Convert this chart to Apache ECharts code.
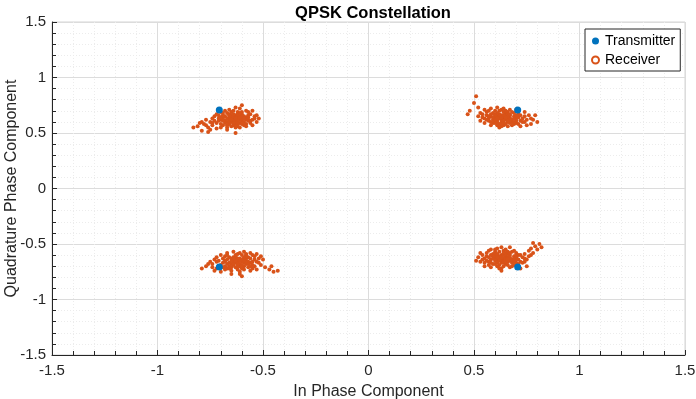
<!DOCTYPE html>
<html>
<head>
<meta charset="utf-8">
<title>QPSK Constellation</title>
<script src="https://cdn.jsdelivr.net/npm/echarts@6/dist/echarts.min.js"></script>
<style>
  html, body { margin: 0; padding: 0; background: #ffffff; }
  #chart { width: 696px; height: 399px; }
</style>
</head>
<body>
<div id="chart"></div>
<script>
// Ideal QPSK symbol positions
const transmitted = [
  [-0.7071, 0.7071], [0.7071, 0.7071], [-0.7071, -0.7071], [0.7071, -0.7071]
];

// Received symbols, one list per quadrant
const receivedTopLeft = [
  [-0.64,0.63],[-0.61,0.65],[-0.67,0.60],[-0.70,0.62],[-0.58,0.64],[-0.63,0.58],[-0.66,0.67],[-0.60,0.61],[-0.72,0.59],[-0.55,0.62],
  [-0.65,0.64],[-0.62,0.69],[-0.68,0.65],[-0.59,0.57],[-0.74,0.63],[-0.63,0.61],[-0.57,0.66],[-0.69,0.57],[-0.61,0.59],[-0.66,0.62],
  [-0.78,0.58],[-0.64,0.70],[-0.60,0.67],[-0.71,0.66],[-0.56,0.59],[-0.67,0.55],[-0.62,0.64],[-0.65,0.60],[-0.58,0.70],[-0.73,0.61],
  [-0.63,0.66],[-0.69,0.63],[-0.61,0.62],[-0.54,0.65],[-0.76,0.55],[-0.66,0.58],[-0.60,0.63],[-0.64,0.57],[-0.70,0.69],[-0.57,0.61],
  [-0.81,0.56],[-0.62,0.60],[-0.67,0.68],[-0.59,0.65],[-0.72,0.54],[-0.65,0.66],[-0.53,0.60],[-0.68,0.61],[-0.61,0.72],[-0.63,0.55],
  [-0.75,0.60],[-0.58,0.62],[-0.66,0.64],[-0.60,0.58],[-0.70,0.58],[-0.64,0.61],[-0.56,0.67],[-0.69,0.66],[-0.62,0.67],[-0.77,0.62],
  [-0.65,0.56],[-0.59,0.60],[-0.71,0.63],[-0.63,0.73],[-0.55,0.57],[-0.67,0.63],[-0.61,0.55],[-0.74,0.57],[-0.60,0.69],[-0.66,0.60],
  [-0.79,0.52],[-0.64,0.65],[-0.57,0.64],[-0.68,0.59],[-0.62,0.62],[-0.73,0.65],[-0.58,0.58],[-0.65,0.69],[-0.70,0.55],[-0.60,0.65],
  [-0.79,0.60],[-0.63,0.63],[-0.66,0.71],[-0.54,0.63],[-0.69,0.61],[-0.61,0.68],[-0.75,0.53],[-0.64,0.59],[-0.57,0.69],[-0.67,0.57],
  [-0.62,0.58],[-0.72,0.67],[-0.59,0.63],[-0.83,0.55],[-0.65,0.62],[-0.56,0.61],[-0.70,0.64],[-0.63,0.50],[-0.60,0.75],[-0.68,0.70],
  [-0.53,0.66],[-0.77,0.57],[-0.66,0.66],[-0.61,0.64],[-0.74,0.59],[-0.58,0.56],[-0.64,0.67],[-0.71,0.61],[-0.55,0.70],[-0.67,0.53],
  [-0.76,0.51],[-0.52,0.63],[-0.69,0.68],[-0.62,0.56],[-0.80,0.59]
];

const receivedTopRight = [
  [0.64,0.64],[0.61,0.62],[0.67,0.66],[0.70,0.63],[0.58,0.65],[0.63,0.60],[0.66,0.69],[0.60,0.67],[0.72,0.61],[0.55,0.63],
  [0.65,0.62],[0.62,0.70],[0.68,0.60],[0.59,0.59],[0.74,0.65],[0.63,0.66],[0.57,0.61],[0.69,0.58],[0.61,0.65],[0.66,0.63],
  [0.78,0.62],[0.64,0.57],[0.60,0.70],[0.71,0.67],[0.56,0.66],[0.67,0.59],[0.62,0.64],[0.65,0.68],[0.58,0.72],[0.73,0.60],
  [0.63,0.62],[0.69,0.65],[0.61,0.60],[0.54,0.67],[0.76,0.66],[0.66,0.60],[0.60,0.64],[0.64,0.69],[0.70,0.71],[0.57,0.63],
  [0.51,0.83],[0.62,0.58],[0.67,0.64],[0.59,0.68],[0.72,0.56],[0.65,0.66],[0.53,0.61],[0.68,0.62],[0.61,0.73],[0.63,0.56],
  [0.75,0.62],[0.58,0.60],[0.66,0.65],[0.60,0.61],[0.70,0.59],[0.64,0.61],[0.56,0.69],[0.69,0.68],[0.62,0.67],[0.77,0.58],
  [0.65,0.58],[0.59,0.62],[0.71,0.64],[0.63,0.71],[0.55,0.59],[0.67,0.62],[0.61,0.57],[0.74,0.69],[0.60,0.66],[0.66,0.67],
  [0.47,0.67],[0.64,0.66],[0.57,0.65],[0.68,0.57],[0.62,0.63],[0.73,0.63],[0.58,0.57],[0.65,0.70],[0.70,0.61],[0.60,0.59],
  [0.79,0.66],[0.63,0.64],[0.66,0.61],[0.54,0.64],[0.69,0.63],[0.61,0.68],[0.75,0.57],[0.64,0.59],[0.57,0.70],[0.67,0.67],
  [0.50,0.77],[0.72,0.66],[0.59,0.64],[0.52,0.73],[0.65,0.64],[0.56,0.62],[0.70,0.66],[0.63,0.58],[0.60,0.62],[0.68,0.69],
  [0.53,0.68],[0.77,0.63],[0.66,0.56],[0.61,0.63],[0.74,0.60],[0.58,0.67],[0.64,0.72],[0.71,0.58],[0.55,0.71],[0.67,0.71],
  [0.80,0.60],[0.52,0.65],[0.69,0.60],[0.62,0.55],[0.48,0.70]
];

const receivedBottomLeft = [
  [-0.62,-0.66],[-0.59,-0.64],[-0.65,-0.68],[-0.68,-0.65],[-0.56,-0.67],[-0.61,-0.70],[-0.64,-0.62],[-0.58,-0.63],[-0.70,-0.69],[-0.53,-0.66],
  [-0.63,-0.64],[-0.60,-0.60],[-0.66,-0.70],[-0.57,-0.71],[-0.72,-0.66],[-0.61,-0.63],[-0.55,-0.69],[-0.67,-0.72],[-0.59,-0.67],[-0.64,-0.65],
  [-0.76,-0.68],[-0.62,-0.73],[-0.58,-0.60],[-0.69,-0.63],[-0.54,-0.64],[-0.65,-0.74],[-0.60,-0.66],[-0.63,-0.61],[-0.56,-0.58],[-0.71,-0.70],
  [-0.61,-0.68],[-0.67,-0.64],[-0.59,-0.70],[-0.52,-0.63],[-0.74,-0.71],[-0.64,-0.69],[-0.58,-0.65],[-0.62,-0.59],[-0.68,-0.61],[-0.55,-0.72],
  [-0.45,-0.75],[-0.60,-0.72],[-0.65,-0.63],[-0.57,-0.62],[-0.70,-0.75],[-0.63,-0.67],[-0.51,-0.69],[-0.66,-0.67],[-0.59,-0.57],[-0.61,-0.75],
  [-0.73,-0.64],[-0.56,-0.70],[-0.64,-0.66],[-0.58,-0.68],[-0.68,-0.70],[-0.62,-0.63],[-0.54,-0.61],[-0.67,-0.60],[-0.60,-0.64],[-0.75,-0.66],
  [-0.63,-0.71],[-0.57,-0.66],[-0.69,-0.67],[-0.61,-0.58],[-0.53,-0.73],[-0.65,-0.65],[-0.59,-0.73],[-0.72,-0.62],[-0.58,-0.61],[-0.64,-0.68],
  [-0.47,-0.73],[-0.62,-0.64],[-0.55,-0.66],[-0.66,-0.72],[-0.60,-0.69],[-0.71,-0.65],[-0.56,-0.74],[-0.63,-0.60],[-0.68,-0.73],[-0.58,-0.67],
  [-0.77,-0.70],[-0.61,-0.65],[-0.64,-0.57],[-0.52,-0.67],[-0.67,-0.68],[-0.59,-0.62],[-0.73,-0.74],[-0.62,-0.70],[-0.55,-0.60],[-0.65,-0.71],
  [-0.49,-0.71],[-0.70,-0.60],[-0.57,-0.68],[-0.79,-0.72],[-0.63,-0.65],[-0.54,-0.70],[-0.68,-0.66],[-0.61,-0.77],[-0.58,-0.59],[-0.66,-0.62],
  [-0.50,-0.64],[-0.74,-0.68],[-0.64,-0.63],[-0.59,-0.65],[-0.72,-0.72],[-0.56,-0.63],[-0.62,-0.68],[-0.69,-0.71],[-0.53,-0.59],[-0.65,-0.77],
  [-0.43,-0.74],[-0.51,-0.61],[-0.67,-0.58],[-0.60,-0.79],[-0.46,-0.70]
];

const receivedBottomRight = [
  [0.64,-0.63],[0.61,-0.61],[0.67,-0.65],[0.70,-0.62],[0.58,-0.64],[0.63,-0.67],[0.66,-0.59],[0.60,-0.60],[0.72,-0.66],[0.55,-0.63],
  [0.65,-0.61],[0.62,-0.57],[0.68,-0.67],[0.59,-0.68],[0.74,-0.63],[0.63,-0.60],[0.57,-0.66],[0.69,-0.69],[0.61,-0.64],[0.66,-0.62],
  [0.78,-0.58],[0.64,-0.70],[0.60,-0.57],[0.71,-0.60],[0.56,-0.61],[0.67,-0.71],[0.62,-0.63],[0.65,-0.58],[0.58,-0.55],[0.73,-0.67],
  [0.63,-0.65],[0.69,-0.61],[0.61,-0.67],[0.54,-0.60],[0.76,-0.61],[0.66,-0.66],[0.60,-0.62],[0.64,-0.56],[0.70,-0.58],[0.57,-0.69],
  [0.81,-0.50],[0.62,-0.69],[0.67,-0.60],[0.59,-0.59],[0.72,-0.72],[0.65,-0.64],[0.53,-0.66],[0.68,-0.64],[0.61,-0.54],[0.63,-0.72],
  [0.75,-0.64],[0.58,-0.67],[0.66,-0.63],[0.60,-0.65],[0.70,-0.67],[0.64,-0.60],[0.56,-0.58],[0.69,-0.56],[0.62,-0.61],[0.77,-0.54],
  [0.65,-0.68],[0.59,-0.63],[0.71,-0.64],[0.63,-0.53],[0.55,-0.70],[0.67,-0.62],[0.61,-0.70],[0.74,-0.59],[0.60,-0.59],[0.66,-0.57],
  [0.79,-0.52],[0.64,-0.66],[0.57,-0.62],[0.68,-0.70],[0.62,-0.65],[0.73,-0.62],[0.58,-0.71],[0.65,-0.55],[0.70,-0.64],[0.60,-0.68],
  [0.76,-0.56],[0.63,-0.62],[0.66,-0.69],[0.54,-0.64],[0.69,-0.63],[0.61,-0.59],[0.75,-0.70],[0.64,-0.67],[0.57,-0.56],[0.67,-0.58],
  [0.52,-0.62],[0.72,-0.60],[0.59,-0.61],[0.80,-0.55],[0.65,-0.66],[0.56,-0.65],[0.70,-0.60],[0.63,-0.74],[0.60,-0.55],[0.68,-0.57],
  [0.53,-0.58],[0.77,-0.60],[0.66,-0.64],[0.61,-0.62],[0.74,-0.66],[0.58,-0.60],[0.64,-0.58],[0.71,-0.68],[0.55,-0.67],[0.67,-0.53],
  [0.78,-0.49],[0.51,-0.65],[0.69,-0.66],[0.62,-0.72],[0.82,-0.53]
];

// Axis range and tick spacing (same for both axes)
const axisTicks = [-1.5, -1, -0.5, 0, 0.5, 1, 1.5];
const seriesNames = ['Transmitter', 'Receiver'];

const received = receivedTopLeft.concat(receivedTopRight, receivedBottomLeft, receivedBottomRight);

const txColor = '#0072BD';
const rxColor = '#D95319';
const axisColor = '#262626';
const font = '"Liberation Sans", Arial, Helvetica, sans-serif';

function makeAxis(isX) {
  return {
    type: 'value',
    min: axisTicks[0],
    max: axisTicks[axisTicks.length - 1],
    interval: axisTicks[1] - axisTicks[0],
    name: isX ? 'In Phase Component' : 'Quadrature Phase Component',
    nameLocation: 'middle',
    nameGap: isX ? 29 : 32,
    nameMoveOverlap: false,
    nameTextStyle: { fontFamily: font, fontSize: 16, color: axisColor },
    axisLine: { show: true, onZero: false, lineStyle: { color: axisColor, width: 1 } },
    axisTick: { show: true, inside: true, length: 5, lineStyle: { color: axisColor } },
    minorTick: { show: true, splitNumber: 5, length: 4, lineStyle: { color: axisColor } },
    axisLabel: {
      fontFamily: font, fontSize: 15, color: axisColor, margin: isX ? 8 : 6,
      formatter: v => String(v)
    },
    splitLine: { show: true, lineStyle: { color: '#dcdcdc', width: 1 } },
    minorSplitLine: { show: true, lineStyle: { color: '#ececec', width: 1, type: [1, 2] } }
  };
}

const chart = echarts.init(document.getElementById('chart'), null, { renderer: 'canvas' });
chart.setOption({
  animation: false,
  backgroundColor: '#ffffff',
  title: {
    text: 'QPSK Constellation',
    left: 368, top: 0, textAlign: 'center',
    textStyle: { fontFamily: font, fontSize: 16.5, fontWeight: 'bold', color: '#000000' }
  },
  grid: {
    left: 52, right: 11, top: 22, bottom: 44,
    outerBoundsMode: 'none',
    containLabel: false,
    show: true, borderColor: '#d4d4d4', borderWidth: 1, backgroundColor: 'transparent'
  },
  xAxis: makeAxis(true),
  yAxis: makeAxis(false),
  legend: {
    left: 585, top: 29,
    orient: 'vertical',
    backgroundColor: '#ffffff',
    borderColor: axisColor, borderWidth: 1,
    padding: [5, 5, 4, 6],
    itemGap: 5,
    itemWidth: 7, itemHeight: 7,
    textStyle: { fontFamily: font, fontSize: 14, color: '#000000', padding: [0, 0, 0, 1] },
    data: [
      { name: seriesNames[0], icon: 'circle', itemStyle: { color: txColor, opacity: 1 } },
      { name: seriesNames[1], icon: 'emptyCircle', itemStyle: { color: rxColor, borderColor: rxColor, borderWidth: 1.2, opacity: 1 } }
    ]
  },
  series: [
    {
      name: seriesNames[0],
      type: 'scatter',
      data: transmitted,
      symbol: 'circle',
      symbolSize: 7,
      itemStyle: { color: txColor, opacity: 1 },
      z: 4
    },
    {
      name: seriesNames[1],
      type: 'scatter',
      data: received,
      symbol: 'circle',
      symbolSize: 4,
      itemStyle: { color: rxColor, borderColor: rxColor, borderWidth: 0, opacity: 1 },
      z: 3
    }
  ]
});
</script>
</body>
</html>
